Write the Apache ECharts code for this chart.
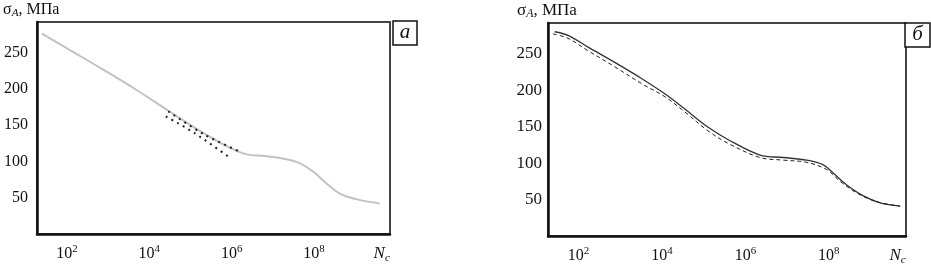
<!DOCTYPE html>
<html>
<head>
<meta charset="utf-8">
<script src="https://cdn.jsdelivr.net/npm/echarts@6/dist/echarts.min.js"></script>
<style>
html,body{margin:0;padding:0;background:#fff;}
#chart{width:931px;height:266px;}
</style>
</head>
<body>
<div id="chart"></div>
<script>
// ---- data (x = log10 N, y = stress, MPa) ----
const xTickExps = [2, 4, 6, 8];
const yTickValues = [50, 100, 150, 200, 250];
const yAxisTitle = ['σ', 'A', ', МПа'];
const xAxisTitle = ['N', 'c'];
const panelLabels = ['а', 'б'];

// panel a: grey curve
const aCurveLogN = [1.39, 2.08, 2.89, 3.70, 4.43, 5.35, 6.28, 6.85, 7.33, 7.65, 7.98, 8.30, 8.62, 9.03, 9.60];
const aCurveVal  = [276, 253, 226, 198, 171, 138, 111, 107, 103, 97.5, 86, 70, 56, 48, 42];
// panel a: dotted scatter bands
const aUpperLogN = [4.46, 5.35, 6.20];
const aUpperVal  = [169, 136.5, 113.5];
const aLowerLogN = [4.40, 5.10, 5.91];
const aLowerVal  = [162, 139, 107];

// panel б: solid and dashed curves
const bSolidLogN = [1.43, 1.75, 2.23, 2.87, 3.51, 4.07, 4.55, 5.11, 5.59, 6.35, 6.91, 7.47, 7.87, 8.11, 8.43, 8.83, 9.23, 9.71];
const bSolidVal  = [280, 275, 259, 238, 216, 195, 174, 149, 132, 111, 107.6, 104, 97.6, 86, 70, 55, 45.5, 41];
const bDashLogN  = [1.39, 1.75, 2.23, 2.87, 3.51, 4.07, 4.55, 5.11, 5.59, 6.35, 6.91, 7.47, 7.95, 8.27, 8.67, 9.15, 9.71];
const bDashVal   = [277, 271, 254, 232, 209, 191, 170, 144, 127, 107.6, 104, 101, 91, 75, 59, 47, 41];

const zip = (xs, ys) => xs.map((x, i) => [x, ys[i]]);
const FONT = 'Liberation Serif';
const NC_POS = 9.65;

function xAxisCfg(gridIndex, fs) {
  return {
    type: 'value', gridIndex, min: 1.27, max: 9.85,
    axisLine: { show: true, lineStyle: { color: '#111', width: 2.5 } },
    axisTick: { show: false },
    splitLine: { show: false },
    axisLabel: {
      customValues: xTickExps.concat([NC_POS]),
      margin: 10,
      formatter: v => v > 9 ? '{n|' + xAxisTitle[0] + '}{c|' + xAxisTitle[1] + '}' : '{b|10}{s|' + Math.round(v) + '}',
      rich: {
        b: { fontFamily: FONT, fontSize: fs, lineHeight: 20, color: '#111' },
        s: { fontFamily: FONT, fontSize: fs * 0.68, lineHeight: 10, verticalAlign: 'top', color: '#111' },
        n: { fontFamily: FONT, fontStyle: 'italic', fontSize: fs + 1, lineHeight: 20, color: '#111' },
        c: { fontFamily: FONT, fontStyle: 'italic', fontSize: fs * 0.7, lineHeight: 10, verticalAlign: 'bottom', color: '#111' }
      }
    }
  };
}
function yAxisCfg(gridIndex, fs, margin) {
  return {
    type: 'value', gridIndex, min: 0, max: 292, interval: 50,
    axisLine: { show: true, lineStyle: { color: '#111', width: 2.5 } },
    axisTick: { show: false },
    splitLine: { show: false },
    axisLabel: { customValues: yTickValues, margin, fontFamily: FONT, fontSize: fs, color: '#111' }
  };
}
function yTitle(x, fs) {
  return {
    type: 'text', left: x, top: 2,
    style: {
      text: '{a|' + yAxisTitle[0] + '}{s|' + yAxisTitle[1] + '}{a|' + yAxisTitle[2] + '}',
      rich: {
        a: { fontFamily: FONT, fontSize: fs, lineHeight: 18, fill: '#111' },
        s: { fontFamily: FONT, fontStyle: 'italic', fontSize: fs * 0.7, lineHeight: 10, verticalAlign: 'bottom', fill: '#111' }
      }
    }
  };
}
function labelBox(x, y, w, h, txt) {
  return [
    { type: 'rect', shape: { x, y, width: w, height: h }, style: { fill: '#fff', stroke: '#111', lineWidth: 1.5 } },
    { type: 'text', x: x + w / 2, y: y + h / 2 - 1, style: { text: txt, fontFamily: FONT, fontStyle: 'italic', fontSize: 21, fill: '#111', align: 'center', verticalAlign: 'middle' } }
  ];
}

const chart = echarts.init(document.getElementById('chart'), null, { renderer: 'canvas' });
chart.setOption({
  animation: false,
  backgroundColor: '#fff',
  grid: [
    { left: 37, top: 22, width: 353, height: 212, show: true, borderColor: '#444', borderWidth: 2 },
    { left: 548, top: 23, width: 358, height: 215, show: true, borderColor: '#444', borderWidth: 2 }
  ],
  xAxis: [xAxisCfg(0, 16), xAxisCfg(1, 16)],
  yAxis: [yAxisCfg(0, 16, 9), yAxisCfg(1, 17, 6)],
  series: [
    { type: 'line', xAxisIndex: 0, yAxisIndex: 0, data: zip(aCurveLogN, aCurveVal), smooth: 0.4, showSymbol: false,
      lineStyle: { color: '#c2c2c2', width: 2 } },
    { type: 'line', xAxisIndex: 0, yAxisIndex: 0, data: zip(aUpperLogN, aUpperVal), smooth: 0.3, showSymbol: false,
      lineStyle: { color: '#222', width: 2, type: [2, 4.5] } },
    { type: 'line', xAxisIndex: 0, yAxisIndex: 0, data: zip(aLowerLogN, aLowerVal), smooth: 0.3, showSymbol: false,
      lineStyle: { color: '#222', width: 2, type: [2, 4.5] } },
    { type: 'line', xAxisIndex: 1, yAxisIndex: 1, data: zip(bSolidLogN, bSolidVal), smooth: 0.35, showSymbol: false,
      lineStyle: { color: '#333', width: 1.3 } },
    { type: 'line', xAxisIndex: 1, yAxisIndex: 1, data: zip(bDashLogN, bDashVal), smooth: 0.35, showSymbol: false,
      lineStyle: { color: '#222', width: 1, type: [4, 3] } }
  ],
  graphic: [
    yTitle(3, 16),
    yTitle(517, 17),
    ...labelBox(393, 21, 24, 24, panelLabels[0]),
    ...labelBox(905, 23, 25, 24, panelLabels[1])
  ]
});
</script>
</body>
</html>
